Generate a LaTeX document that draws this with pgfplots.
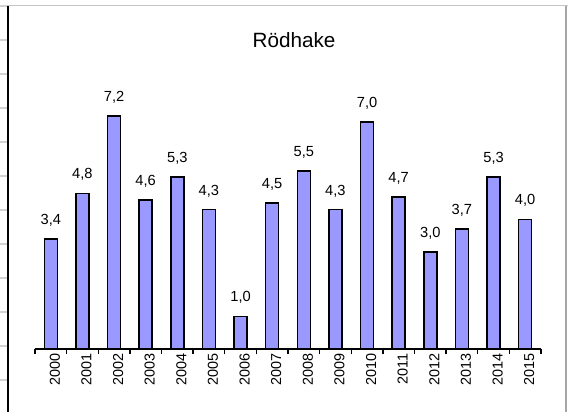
\documentclass[border=0pt]{standalone}
\usepackage{pgfplots}
\pgfplotsset{compat=1.18}
\usepackage{fontspec}
\setmainfont{Liberation Sans}
\definecolor{barblue}{RGB}{153,153,255}
\begin{document}
\begin{tikzpicture}[x=0.75pt,y=0.75pt]
\path[use as bounding box] (0,0) rectangle (568,412);
% sheet frame
\draw[gray!45, line width=1.2pt] (0,406.5) -- (568,406.5);
\draw[gray!70, line width=1.1pt] (566,406.5) -- (566,0);
\foreach \yy in {6,40,...,380} \draw[gray!35, line width=0.8pt] (0,412-\yy) -- (7,412-\yy);
\draw[black, line width=1.5pt] (7.5,406) -- (7.5,0);
\node[font=\fontsize{15.5}{18}\selectfont] at (294,372) {Rödhake};
\begin{axis}[
  at={(26.25pt,47.25pt)}, anchor=south west,
  scale only axis, width=379.5pt, height=218.7pt,
  xmin=-0.5, xmax=15.5, ymin=0, ymax=9,
  axis x line*=bottom, axis y line=none,
  x axis line style={line width=1.1pt},
  xtick={0,...,15},
  xticklabels={2000,2001,2002,2003,2004,2005,2006,2007,2008,2009,2010,2011,2012,2013,2014,2015},
  minor xtick={-0.5,0.5,...,15.5},
  major tick length=0pt, minor tick length=4pt,
  xtick align=outside,
  tick style={black, line width=1.1pt},
  xticklabel style={rotate=90, anchor=east, font=\fontsize{10.8}{12}\selectfont, yshift=-3pt},
  ybar, bar width=9.75pt,
  nodes near coords,
  /pgf/number format/assume math mode=true,
  /pgf/number format/use comma,
  /pgf/number format/fixed,
  /pgf/number format/fixed zerofill,
  /pgf/number format/precision=1,
  every node near coord/.append style={font=\fontsize{11}{12}\selectfont, anchor=base, yshift=11pt},
  clip=false,
]
\addplot[fill=barblue, draw=black, line width=1.2pt] coordinates {
(0,3.4) (1,4.8) (2,7.2) (3,4.6) (4,5.3) (5,4.3) (6,1.0) (7,4.5)
(8,5.5) (9,4.3) (10,7.0) (11,4.7) (12,3.0) (13,3.7) (14,5.3) (15,4.0)};
\end{axis}
\end{tikzpicture}
\end{document}
